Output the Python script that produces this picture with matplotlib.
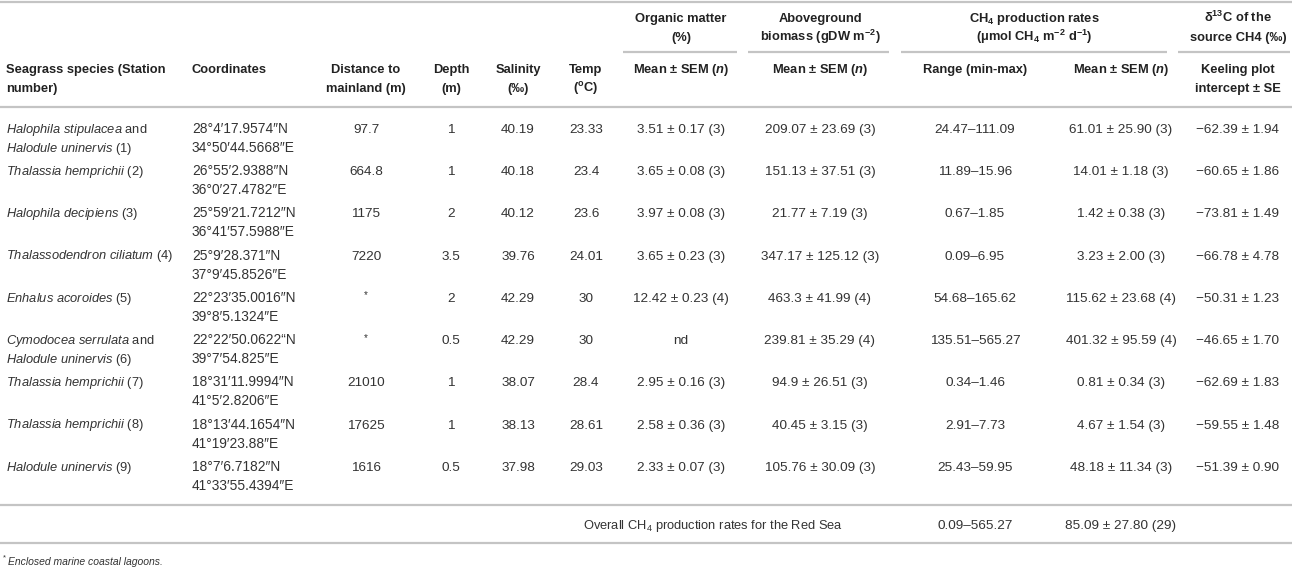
import matplotlib
matplotlib.use("Agg")
import matplotlib.pyplot as plt

plt.rcParams['font.family'] = ['Liberation Sans', 'DejaVu Sans']
plt.rcParams['mathtext.fontset'] = 'custom'
plt.rcParams['mathtext.rm'] = 'Liberation Sans'
plt.rcParams['mathtext.it'] = 'Liberation Sans:italic'
plt.rcParams['mathtext.bf'] = 'Liberation Sans:bold'
plt.rcParams['mathtext.bfit'] = 'Liberation Sans:italic:bold'
plt.rcParams['mathtext.sf'] = 'Liberation Sans'
plt.rcParams['mathtext.default'] = 'regular'

# ---------------- data ----------------
species = [["Halophila stipulacea", "Halodule uninervis"],
           ["Thalassia hemprichii"],
           ["Halophila decipiens"],
           ["Thalassodendron ciliatum"],
           ["Enhalus acoroides"],
           ["Cymodocea serrulata", "Halodule uninervis"],
           ["Thalassia hemprichii"],
           ["Thalassia hemprichii"],
           ["Halodule uninervis"]]
stations = [1, 2, 3, 4, 5, 6, 7, 8, 9]
coord_n = ["28°4′17.9574″N", "26°55′2.9388″N", "25°59′21.7212″N", "25°9′28.371″N",
           "22°23′35.0016″N", "22°22′50.0622“N", "18°31′11.9994″N", "18°13′44.1654″N",
           "18°7′6.7182″N"]
coord_e = ["34°50′44.5668″E", "36°0′27.4782″E", "36°41′57.5988″E", "37°9′45.8526″E",
           "39°8′5.1324″E", "39°7′54.825″E", "41°5′2.8206″E", "41°19′23.88″E",
           "41°33′55.4394″E"]
distance = ["97.7", "664.8", "1175", "7220", "*", "*", "21010", "17625", "1616"]
depth = ["1", "1", "2", "3.5", "2", "0.5", "1", "1", "0.5"]
salinity = ["40.19", "40.18", "40.12", "39.76", "42.29", "42.29", "38.07", "38.13", "37.98"]
temp = ["23.33", "23.4", "23.6", "24.01", "30", "30", "28.4", "28.61", "29.03"]
organic = ["3.51 ± 0.17 (3)", "3.65 ± 0.08 (3)", "3.97 ± 0.08 (3)", "3.65 ± 0.23 (3)",
           "12.42 ± 0.23 (4)", "nd", "2.95 ± 0.16 (3)", "2.58 ± 0.36 (3)", "2.33 ± 0.07 (3)"]
biomass = ["209.07 ± 23.69 (3)", "151.13 ± 37.51 (3)", "21.77 ± 7.19 (3)",
           "347.17 ± 125.12 (3)", "463.3 ± 41.99 (4)", "239.81 ± 35.29 (4)",
           "94.9 ± 26.51 (3)", "40.45 ± 3.15 (3)", "105.76 ± 30.09 (3)"]
ch4_range = ["24.47–111.09", "11.89–15.96", "0.67–1.85", "0.09–6.95", "54.68–165.62",
             "135.51–565.27", "0.34–1.46", "2.91–7.73", "25.43–59.95"]
ch4_mean = ["61.01 ± 25.90 (3)", "14.01 ± 1.18 (3)", "1.42 ± 0.38 (3)", "3.23 ± 2.00 (3)",
            "115.62 ± 23.68 (4)", "401.32 ± 95.59 (4)", "0.81 ± 0.34 (3)",
            "4.67 ± 1.54 (3)", "48.18 ± 11.34 (3)"]
keeling = ["−62.39 ± 1.94", "−60.65 ± 1.86", "−73.81 ± 1.49", "−66.78 ± 4.78",
           "−50.31 ± 1.23", "−46.65 ± 1.70", "−62.69 ± 1.83", "−59.55 ± 1.48",
           "−51.39 ± 0.90"]
overall_label = "Overall CH$_4$ production rates for the Red Sea"
overall_range = "0.09–565.27"
overall_mean = "85.09 ± 27.80 (29)"
footnote = "Enclosed marine coastal lagoons."

# ---------------- layout ----------------
W, H = 1292, 568
fig = plt.figure(figsize=(W / 100, H / 100), dpi=100)
ax = fig.add_axes([0, 0, 1, 1])
ax.set_xlim(0, W)
ax.set_ylim(H, 0)
ax.axis('off')

FS = 9.3      # species / header text
FN = 9.7      # numeric cells
FC = 9.9      # coordinates
TXT = '#333333'
HDR = '#222222'
LINE = '#c4c4c4'
BOFF = 4.6  # baseline offset from visual center


def put(x, y, s, ha='center', bold=False, size=FS, color=None, style='normal'):
    ax.text(x, y + BOFF * size / FS, s, ha=ha, va='baseline', fontsize=size,
            fontweight='bold' if bold else 'normal', style=style,
            color=color or (HDR if bold else TXT))


def hline(x0, x1, y, lw=1.6):
    ax.plot([x0, x1], [y, y], color=LINE, lw=lw, solid_capstyle='butt')


def it(s):
    return r"$\mathit{" + s.replace(" ", r"\ ") + "}$"


# rules
hline(0, W, 1.5)
hline(0, W, 107)
hline(0, W, 505)
hline(0, W, 543)
hline(623, 737, 52)
hline(748, 889, 52)
hline(901, 1167, 52)
hline(1178, 1290, 52)

# column positions
X_SP, X_CO = 6, 192
cx = {'dist': 366, 'depth': 451, 'sal': 518, 'temp': 586, 'om': 681,
      'bio': 820, 'rng': 975, 'mean': 1121, 'kee': 1238}

# header
H1, H2 = 68, 87
G1, G2 = 17, 36
put(X_SP, H1, "Seagrass species (Station", ha='left', bold=True)
put(X_SP, H2, "number)", ha='left', bold=True)
put(X_CO, H1, "Coordinates", ha='left', bold=True)
put(cx['dist'], H1, "Distance to", bold=True)
put(cx['dist'], H2, "mainland (m)", bold=True)
put(cx['depth'], H1, "Depth", bold=True)
put(cx['depth'], H2, "(m)", bold=True)
put(cx['sal'], H1, "Salinity", bold=True)
put(cx['sal'], H2, "(‰)", bold=True)
put(cx['temp'], H1, "Temp", bold=True)
put(cx['temp'], H2, "($^{o}$C)", bold=True)

put(cx['om'], G1, "Organic matter", bold=True)
put(cx['om'], G2, "(%)", bold=True)
put(cx['bio'], G1, "Aboveground", bold=True)
put(cx['bio'], G2, "biomass (gDW m$^{-2}$)", bold=True)
put((901 + 1167) / 2, G1, "CH$_4$ production rates", bold=True)
put((901 + 1167) / 2, G2, "(μmol CH$_4$ m$^{-2}$ d$^{-1}$)", bold=True)
put(cx['kee'], G1, "δ$^{13}$C of the", bold=True)
put(cx['kee'], G2, "source CH4 (‰)", bold=True)

mean_hdr = r"Mean ± SEM ($\mathbfit{n}$)"
put(cx['om'], H1, mean_hdr, bold=True)
put(cx['bio'], H1, mean_hdr, bold=True)
put(cx['rng'], H1, "Range (min-max)", bold=True)
put(cx['mean'], H1, mean_hdr, bold=True)
put(cx['kee'], H1, "Keeling plot", bold=True)
put(cx['kee'], H2, "intercept ± SE", bold=True)

# body rows
Y0, DY, DL = 128, 42.25, 19
for i in range(len(stations)):
    y = Y0 + DY * i
    sp = species[i]
    if len(sp) == 2:
        put(X_SP, y, it(sp[0]) + " and", ha='left')
        put(X_SP, y + DL, it(sp[1]) + f" ({stations[i]})", ha='left')
    else:
        put(X_SP, y, it(sp[0]) + f" ({stations[i]})", ha='left')
    put(X_CO, y, coord_n[i], ha='left', size=FC)
    put(X_CO, y + DL, coord_e[i], ha='left', size=FC)
    if distance[i] == "*":
        put(cx['dist'], y - 2, "*", size=7)
    else:
        put(cx['dist'], y, distance[i], size=FN)
    put(cx['depth'], y, depth[i], size=FN)
    put(cx['sal'], y, salinity[i], size=FN)
    put(cx['temp'], y, temp[i], size=FN)
    put(cx['om'], y, organic[i], size=FN)
    put(cx['bio'], y, biomass[i], size=FN)
    put(cx['rng'], y, ch4_range[i], size=FN)
    put(cx['mean'], y, ch4_mean[i], size=FN)
    put(cx['kee'], y, keeling[i], size=FN)

# overall row
YO = 524
put(583, YO, overall_label, ha='left')
put(cx['rng'], YO, overall_range, size=FN)
put(cx['mean'], YO, overall_mean, size=FN)

# footnote
put(8, 561, footnote, ha='left', size=7.5, style='italic')
put(3, 557, "*", ha='left', size=5.5)

fig.savefig("out.png", dpi=100)
